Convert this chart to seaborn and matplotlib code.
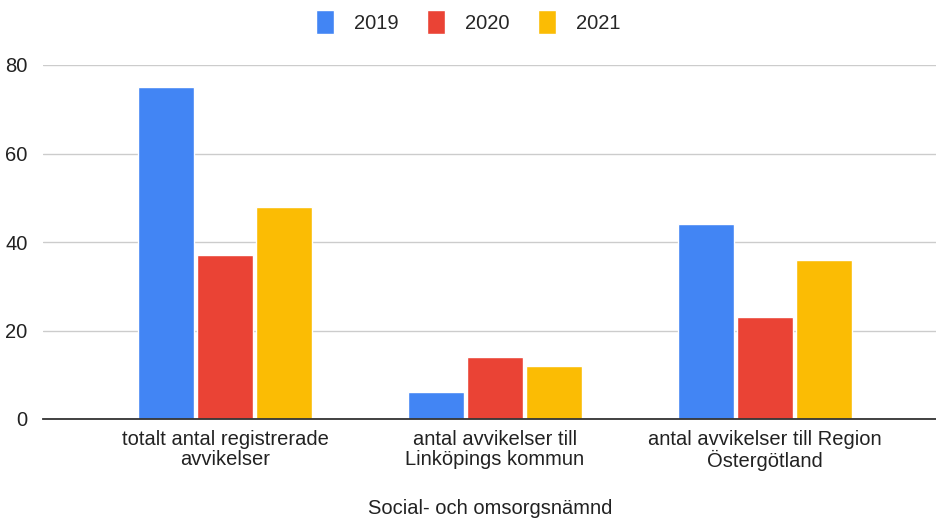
import matplotlib
matplotlib.use("Agg")
import matplotlib.pyplot as plt
import seaborn as sns
import pandas as pd
from matplotlib.patches import Patch

# Data
kategorier = ["totalt antal registrerade\navvikelser",
              "antal avvikelser till\nLinköpings kommun",
              "antal avvikelser till Region\nÖstergötland"]
ar = ["2019", "2020", "2021"]
v2019 = [75, 6, 44]
v2020 = [37, 14, 23]
v2021 = [48, 12, 36]
farger = ["#4285F4", "#EA4335", "#FBBC04"]

rows = []
for a, vals in zip(ar, [v2019, v2020, v2021]):
    for k, v in zip(kategorier, vals):
        rows.append({"kategori": k, "år": a, "antal": v})
df = pd.DataFrame(rows)

sns.set_style("white")
plt.rcParams["font.family"] = ["Liberation Sans", "DejaVu Sans"]

fig = plt.figure(figsize=(9.37, 5.19), dpi=100)
ax = fig.add_axes([43 / 937, 1 - 419 / 519, 1 - 43 / 937, (419 - 65) / 519])

sns.barplot(data=df, x="kategori", y="antal", hue="år", palette=farger,
            width=0.655, gap=0.05, ax=ax, legend=False, saturation=1)

ax.set_xlim(-0.674, 2.637)
ax.set_ylim(0, 80)
ax.set_yticks([0, 20, 40, 60, 80])
ax.yaxis.grid(True, color="#cccccc", linewidth=1)
ax.set_axisbelow(True)
for s in ["top", "right", "left"]:
    ax.spines[s].set_visible(False)
ax.spines["bottom"].set_color("#333333")
ax.spines["bottom"].set_linewidth(1.3)
ax.tick_params(axis="both", length=0, labelsize=14.5, colors="#222222")
ax.tick_params(axis="x", pad=8)
ax.tick_params(axis="y", pad=11)
for t in ax.get_xticklabels():
    t.set_linespacing(1.05)
ax.set_ylabel("")
ax.set_xlabel("Social- och omsorgsnämnd", fontsize=14.5, color="#222222", labelpad=20)

handles = [Patch(facecolor=c, label=a) for c, a in zip(farger, ar)]
fig.legend(handles=handles, loc="center", bbox_to_anchor=(0.5, 1 - 22 / 519), ncol=3,
           frameon=False, fontsize=14.5, handlelength=0.9, handleheight=1.45,
           handletextpad=1.0, columnspacing=1.4)

fig.savefig("out.png", dpi=100)
